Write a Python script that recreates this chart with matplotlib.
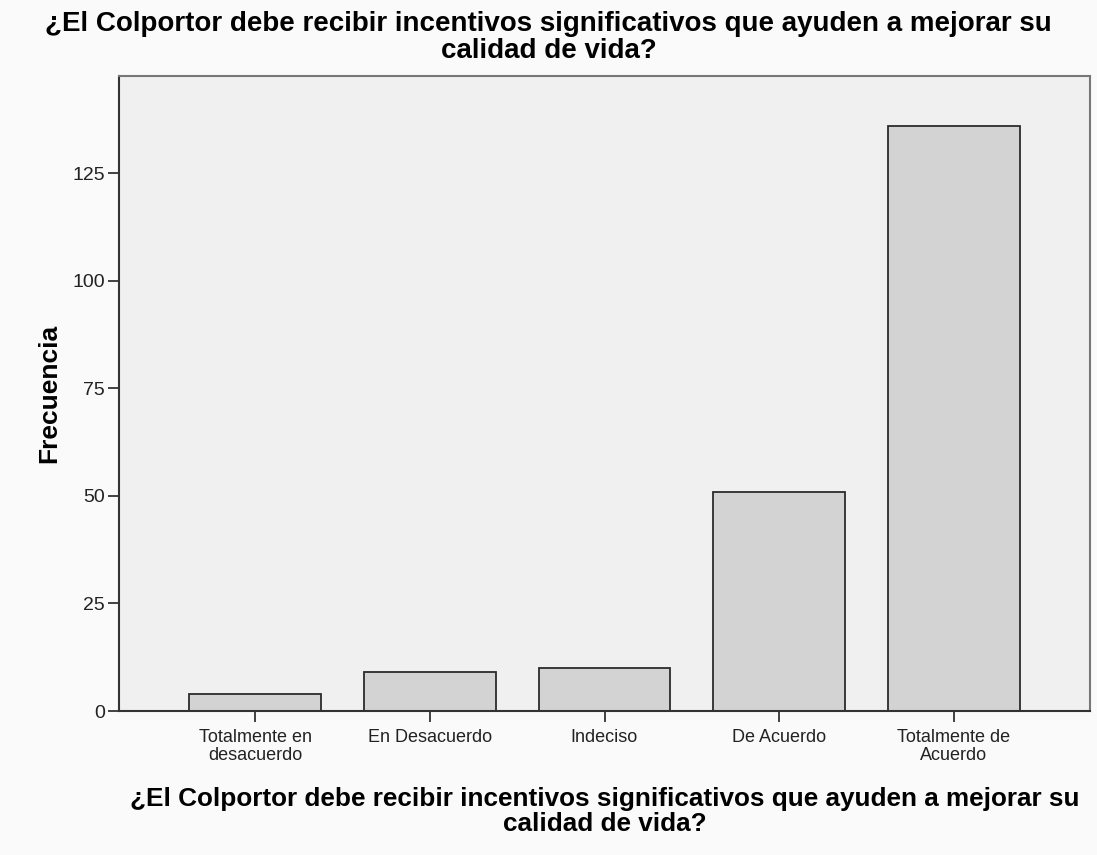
import matplotlib.pyplot as plt

plt.rcParams['font.family'] = ['Liberation Sans', 'DejaVu Sans']

categorias = ["Totalmente en\ndesacuerdo", "En Desacuerdo", "Indeciso", "De Acuerdo", "Totalmente de\nAcuerdo"]
frecuencias = [4, 9, 10, 51, 136]
y_ticks = [0, 25, 50, 75, 100, 125]

titulo = "¿El Colportor debe recibir incentivos significativos que ayuden a mejorar su\ncalidad de vida?"

fig = plt.figure(figsize=(10.97, 8.55), dpi=100, facecolor="#fafafa")
ax = fig.add_axes([119 / 1097, 1 - 711 / 855, (1090 - 119) / 1097, (711 - 76) / 855])
ax.set_facecolor("#f0f0f0")

x = list(range(len(categorias)))
ax.bar(x, frecuencias, width=0.755, color="#d3d3d3", edgecolor="#2b2b2b", linewidth=1.3)

ax.set_xlim(-0.78, 4.78)
ax.set_ylim(0, 147.6)
ax.set_yticks(y_ticks)
ax.set_xticks(x)
ax.set_xticklabels(categorias, fontsize=13, color="#222222", linespacing=1.1)
ax.tick_params(axis="y", labelsize=14, length=8, width=1.3, color="#333333", labelcolor="#222222", pad=2)
ax.tick_params(axis="x", length=8, width=1.3, color="#333333", pad=5)

for side in ["left", "bottom"]:
    ax.spines[side].set_color("#333333")
    ax.spines[side].set_linewidth(1.5)
for side in ["top", "right"]:
    ax.spines[side].set_color("#777777")
    ax.spines[side].set_linewidth(1.5)

ax.set_ylabel("Frecuencia", fontsize=19, fontweight="bold", labelpad=8)
ax.set_xlabel(titulo, fontsize=18.8, fontweight="bold", labelpad=16, linespacing=1.05)
fig.suptitle(titulo, x=0.5, y=0.987, fontsize=20, fontweight="bold", linespacing=1.05)

fig.savefig("out.png", dpi=100, facecolor=fig.get_facecolor())
